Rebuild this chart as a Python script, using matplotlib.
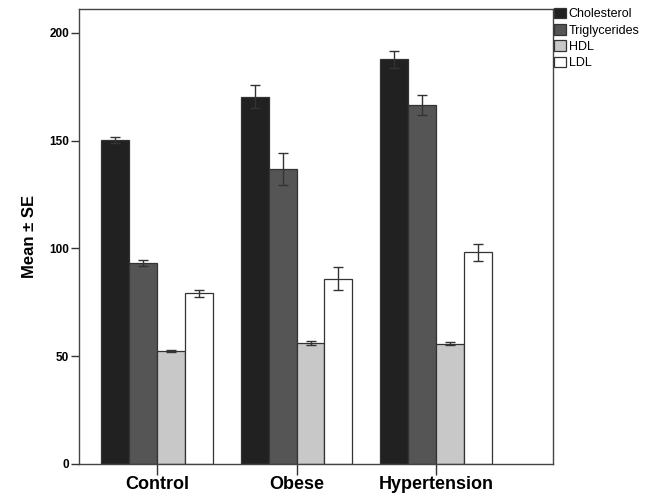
import numpy as np
import matplotlib
matplotlib.use("Agg")
import matplotlib.pyplot as plt

plt.rcParams['font.family'] = ['Liberation Sans', 'DejaVu Sans']

groups = ["Control", "Obese", "Hypertension"]
series = ["Cholesterol", "Triglycerides", "HDL", "LDL"]
means = {
    "Cholesterol":   [150.2, 170.3, 187.6],
    "Triglycerides": [93.3, 137.0, 166.6],
    "HDL":           [52.3, 56.2, 55.8],
    "LDL":           [79.1, 86.0, 98.2],
}
errors = {
    "Cholesterol":   [1.5, 5.4, 4.1],
    "Triglycerides": [1.4, 7.4, 4.6],
    "HDL":           [0.5, 0.9, 0.7],
    "LDL":           [1.7, 5.5, 4.0],
}
colors = ["#212121", "#555555", "#c8c8c8", "#ffffff"]

fig = plt.figure(figsize=(6.51, 5.01), dpi=100)
ax = fig.add_axes([0.1214, 0.0739, 0.7281, 0.9081])

x = np.arange(len(groups))
w = 0.2
for i, s in enumerate(series):
    ax.bar(x + (i - 1.5) * w, means[s], w, yerr=errors[s], color=colors[i],
           edgecolor="#333333", linewidth=0.9, label=s,
           error_kw=dict(ecolor="#333333", elinewidth=1.0, capsize=3.5, capthick=1.0))

ax.set_xlim(-0.557, 2.836)
ax.set_ylim(0, 211)
ax.set_yticks([0, 50, 100, 150, 200])
ax.set_xticks(x)
ax.set_xticklabels(groups, fontsize=13, fontweight="bold")
for lbl in ax.get_yticklabels():
    lbl.set_fontsize(8.5)
    lbl.set_fontweight("bold")
ax.set_ylabel("Mean ± SE", fontsize=12, fontweight="bold", labelpad=9)
ax.tick_params(axis="x", length=8, width=1, pad=1, color="#333333")
ax.tick_params(axis="y", length=6, width=1, pad=1, color="#333333")
for sp in ax.spines.values():
    sp.set_color("#444444")
    sp.set_linewidth(1.0)

ax.legend(loc="upper left", bbox_to_anchor=(1.0, 1.005), frameon=False,
          fontsize=9, handlelength=0.9, handleheight=0.9, handletextpad=0.25,
          labelspacing=0.3, borderaxespad=0.1, borderpad=0.0)

fig.savefig("out.png", dpi=100)
